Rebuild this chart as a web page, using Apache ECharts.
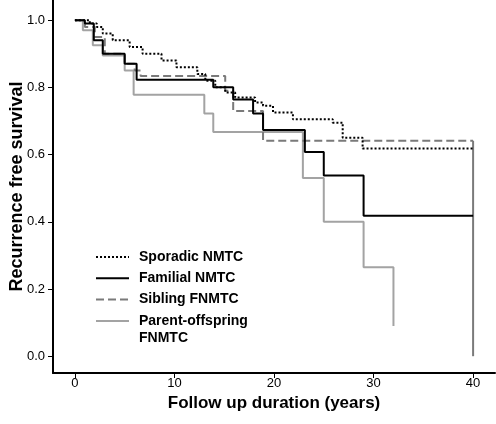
<!DOCTYPE html>
<html>
<head>
<meta charset="utf-8">
<script src="https://cdn.jsdelivr.net/npm/echarts@6/dist/echarts.min.js"></script>
<style>
html,body{margin:0;padding:0;background:#fff;}
#chart{width:496px;height:424px;}
</style>
</head>
<body>
<div id="chart"></div>
<script>
// ---- data ----
const xTicks = [0, 10, 20, 30, 40];
const yTicks = [0.0, 0.2, 0.4, 0.6, 0.8, 1.0];

const sporadicT = [0, 1.5, 2.2, 2.8, 3.8, 5.5, 6.8, 8.7, 10.2, 12.3, 13.1, 14.1, 15.1, 16.1, 18.1, 18.9, 19.9, 21.9, 25.9, 26.9, 28.9, 40];
const sporadicS = [1.0, 0.99, 0.98, 0.96, 0.94, 0.92, 0.90, 0.88, 0.86, 0.84, 0.82, 0.80, 0.785, 0.77, 0.755, 0.745, 0.725, 0.705, 0.695, 0.65, 0.618, 0.618];

const familialT = [0, 1.0, 1.9, 2.8, 5.0, 6.2, 13.9, 15.9, 17.9, 18.9, 23.1, 25.0, 29.0, 40];
const familialS = [1.0, 0.99, 0.94, 0.90, 0.87, 0.823, 0.80, 0.764, 0.722, 0.673, 0.608, 0.538, 0.418, 0.418];

const siblingT = [0, 1.0, 2.0, 3.0, 5.0, 6.0, 6.6, 15.1, 15.9, 18.9, 40];
const siblingS = [1.0, 0.98, 0.95, 0.90, 0.87, 0.85, 0.834, 0.79, 0.73, 0.641, 0.641];

const siblingEndT = [40, 40];
const siblingEndS = [0.641, 0.0];

const parentT = [0, 0.8, 1.8, 2.8, 5.0, 5.9, 13.0, 13.9, 22.9, 25.0, 29.0, 32.0];
const parentS = [1.0, 0.97, 0.925, 0.895, 0.85, 0.778, 0.722, 0.667, 0.53, 0.40, 0.265, 0.09];

const names = ['Sporadic NMTC', 'Familial NMTC', 'Sibling FNMTC', 'Parent-offspring FNMTC'];

function pairs(t, s) { return t.map((x, i) => [x, s[i]]); }

const FONT = '"Liberation Sans", Arial, sans-serif';
const chart = echarts.init(document.getElementById('chart'), null, {renderer: 'canvas'});

chart.setOption({
  backgroundColor: '#ffffff',
  animation: false,
  grid: {left: 53, right: 1, top: 0, bottom: 51, containLabel: false, outerBoundsMode: 'none'},
  xAxis: {
    type: 'value',
    min: -2.2, max: 42.2,
    name: 'Follow up duration (years)',
    nameLocation: 'middle',
    nameGap: 22,
    nameMoveOverlap: false,
    nameTextStyle: {fontFamily: FONT, fontSize: 17, fontWeight: 'bold', color: '#000'},
    axisLine: {show: true, onZero: false, lineStyle: {color: '#000', width: 2}},
    axisTick: {show: true, length: 5, customValues: xTicks, lineStyle: {color: '#000', width: 1}},
    axisLabel: {customValues: xTicks, margin: 4, fontFamily: FONT, fontSize: 13, color: '#000'},
    splitLine: {show: false}
  },
  yAxis: {
    type: 'value',
    min: -0.05, max: 1.06,
    name: 'Recurrence free survival',
    nameLocation: 'middle',
    nameGap: 27,
    nameMoveOverlap: false,
    nameTextStyle: {fontFamily: FONT, fontSize: 18, fontWeight: 'bold', color: '#000'},
    axisLine: {show: true, onZero: false, lineStyle: {color: '#000', width: 2}},
    axisTick: {show: true, length: 5, customValues: yTicks, lineStyle: {color: '#000', width: 1}},
    axisLabel: {customValues: yTicks, margin: 8, fontFamily: FONT, fontSize: 13, color: '#000',
      formatter: v => v.toFixed(1)},
    splitLine: {show: false}
  },
  legend: {
    orient: 'vertical',
    left: 95, top: 250, padding: 0,
    itemWidth: 33, itemHeight: 14, itemGap: 7.3,
    data: names,
    itemStyle: {color: 'rgba(0,0,0,0)', borderColor: 'rgba(0,0,0,0)', borderWidth: 0, opacity: 0},
    formatter: n => n === 'Parent-offspring FNMTC' ? 'Parent-offspring' : n,
    textStyle: {fontFamily: FONT, fontSize: 14, fontWeight: 'bold', color: '#000', lineHeight: 14, padding: [0, 0, 0, 5]}
  },
  graphic: [{
    type: 'text', left: 139, top: 331,
    style: {text: 'FNMTC', font: 'bold 14px ' + FONT, fill: '#000'}
  }],
  series: [
    {name: names[3], type: 'line', step: 'end', symbol: 'none', data: pairs(parentT, parentS),
     lineStyle: {color: '#a3a3a3', width: 2, type: 'solid'}, itemStyle: {color: '#a3a3a3'}, z: 2},
    {name: names[2], type: 'line', step: 'end', symbol: 'none', data: pairs(siblingT, siblingS),
     lineStyle: {color: '#7a7a7a', width: 2, type: [8, 4]}, itemStyle: {color: '#7a7a7a'}, z: 3},
    {name: 'Sibling FNMTC end', type: 'line', symbol: 'none', data: pairs(siblingEndT, siblingEndS),
     lineStyle: {color: '#7a7a7a', width: 2, type: 'solid'}, itemStyle: {color: '#7a7a7a'}, z: 3},
    {name: names[1], type: 'line', step: 'end', symbol: 'none', data: pairs(familialT, familialS),
     lineStyle: {color: '#000', width: 2, type: 'solid'}, itemStyle: {color: '#000'}, z: 4},
    {name: names[0], type: 'line', step: 'end', symbol: 'none', data: pairs(sporadicT, sporadicS),
     lineStyle: {color: '#000', width: 2, type: [2, 2]}, itemStyle: {color: '#000'}, z: 5}
  ]
});
</script>
</body>
</html>
